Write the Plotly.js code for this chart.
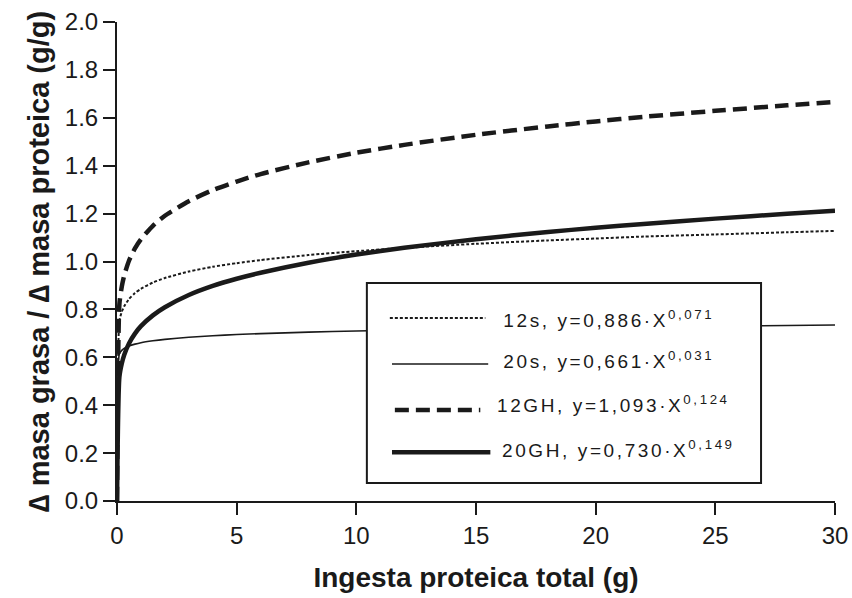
<!DOCTYPE html>
<html>
<head>
<meta charset="utf-8">
<script src="https://cdn.plot.ly/plotly-3.0.1.min.js"></script>
<style>
html,body{margin:0;padding:0;background:#fff;}
#chart{width:852px;height:598px;}
#chart .annotation-text{letter-spacing:2.6px;}
</style>
</head>
<body>
<div id="chart"></div>
<script>
// Ingesta proteica total (g)
const xValues = [0, 0.1, 0.2, 0.3, 0.5, 0.75, 1, 1.5, 2, 3, 4, 5, 6, 8, 10, 12, 15, 18, 20, 22, 25, 28, 30];
// Δ masa grasa / Δ masa proteica (g/g)
const y12s  = [0, 0.752, 0.790, 0.813, 0.843, 0.868, 0.886, 0.912, 0.931, 0.958, 0.978, 0.993, 1.006, 1.027, 1.043, 1.057, 1.074, 1.088, 1.096, 1.104, 1.113, 1.122, 1.128];
const y20s  = [0, 0.615, 0.629, 0.637, 0.647, 0.655, 0.661, 0.669, 0.675, 0.684, 0.690, 0.695, 0.699, 0.705, 0.710, 0.714, 0.719, 0.723, 0.725, 0.727, 0.730, 0.733, 0.735];
const y12GH = [0, 0.822, 0.895, 0.941, 1.003, 1.055, 1.093, 1.149, 1.191, 1.252, 1.298, 1.334, 1.365, 1.414, 1.454, 1.487, 1.529, 1.564, 1.585, 1.604, 1.629, 1.652, 1.666];
const y20GH = [0, 0.518, 0.574, 0.610, 0.658, 0.699, 0.730, 0.775, 0.809, 0.860, 0.898, 0.928, 0.953, 0.995, 1.029, 1.057, 1.093, 1.123, 1.141, 1.157, 1.179, 1.199, 1.212];

const seriesNames = ['12s', '20s', '12GH', '20GH'];
const legendLabels = [
  '12s, y=0,886·X<sup>0,071</sup>',
  '20s, y=0,661·X<sup>0,031</sup>',
  '12GH, y=1,093·X<sup>0,124</sup>',
  '20GH, y=0,730·X<sup>0,149</sup>'
];
const xTicks = [0, 5, 10, 15, 20, 25, 30];
const yTicks = [0, 0.2, 0.4, 0.6, 0.8, 1.0, 1.2, 1.4, 1.6, 1.8, 2.0];

const ink = '#1a1a1a';
const styles = [
  {width: 2, dash: '3px,2px'},
  {width: 1.6, dash: 'solid'},
  {width: 4.5, dash: '14px,7px'},
  {width: 4.5, dash: 'solid'}
];
const ys = [y12s, y20s, y12GH, y20GH];

const traces = ys.map((y, i) => ({
  x: xValues, y: y, type: 'scatter', mode: 'lines', name: seriesNames[i],
  line: {color: ink, width: styles[i].width, dash: styles[i].dash, shape: 'spline', smoothing: 0.6},
  showlegend: false, hoverinfo: 'skip'
}));

// custom legend (paper coordinates)
const legRows = [
  {ly: 0.382, lx0: 0.380, lx1: 0.513, tx: 0.570, ty: 0.381},
  {ly: 0.286, lx0: 0.383, lx1: 0.517, tx: 0.570, ty: 0.294},
  {ly: 0.190, lx0: 0.387, lx1: 0.506, tx: 0.563, ty: 0.2015},
  {ly: 0.102, lx0: 0.383, lx1: 0.520, tx: 0.570, ty: 0.1086}
];
const shapes = [{
  type: 'rect', xref: 'paper', yref: 'paper', x0: 0.348, x1: 0.897, y0: 0.0376, y1: 0.455,
  fillcolor: '#ffffff', line: {color: ink, width: 2}, layer: 'above'
}];
const annotations = [];
legRows.forEach((r, i) => {
  shapes.push({type: 'line', xref: 'paper', yref: 'paper', x0: r.lx0, x1: r.lx1, y0: r.ly, y1: r.ly,
    line: {color: ink, width: styles[i].width, dash: styles[i].dash}, layer: 'above'});
  annotations.push({xref: 'paper', yref: 'paper', x: r.tx, y: r.ty, xanchor: 'left', yanchor: 'middle',
    text: legendLabels[i], showarrow: false, font: {family: 'Liberation Sans, Arial, sans-serif', size: 19, color: ink}});
});

const layout = {
  width: 852, height: 598,
  margin: {l: 117, r: 17, t: 22, b: 97},
  paper_bgcolor: '#ffffff', plot_bgcolor: '#ffffff',
  showlegend: false,
  font: {family: 'Liberation Sans, Arial, sans-serif', color: ink, size: 24},
  xaxis: {
    range: [0, 30], tickvals: xTicks, ticktext: xTicks.map(String),
    showline: true, linecolor: ink, linewidth: 2, showgrid: false, zeroline: false,
    ticks: 'outside', ticklen: 12, tickwidth: 2, tickcolor: ink,
    tickfont: {size: 24, color: ink},
    title: {text: '<b>Ingesta proteica total (g)</b>', font: {size: 28, color: ink}, standoff: 20}
  },
  yaxis: {
    range: [0, 2.0], tickvals: yTicks, ticktext: yTicks.map(v => v.toFixed(1)),
    showline: true, linecolor: ink, linewidth: 2, showgrid: false, zeroline: false,
    ticks: 'outside', ticklen: 12, tickwidth: 2, tickcolor: ink,
    tickfont: {size: 24, color: ink},
    title: {text: '<b>∆ masa grasa / ∆ masa proteica (g/g)</b>', font: {size: 29, color: ink}, standoff: 7}
  },
  shapes: shapes,
  annotations: annotations
};

Plotly.newPlot('chart', traces, layout, {displayModeBar: false, staticPlot: true});
</script>
</body>
</html>
